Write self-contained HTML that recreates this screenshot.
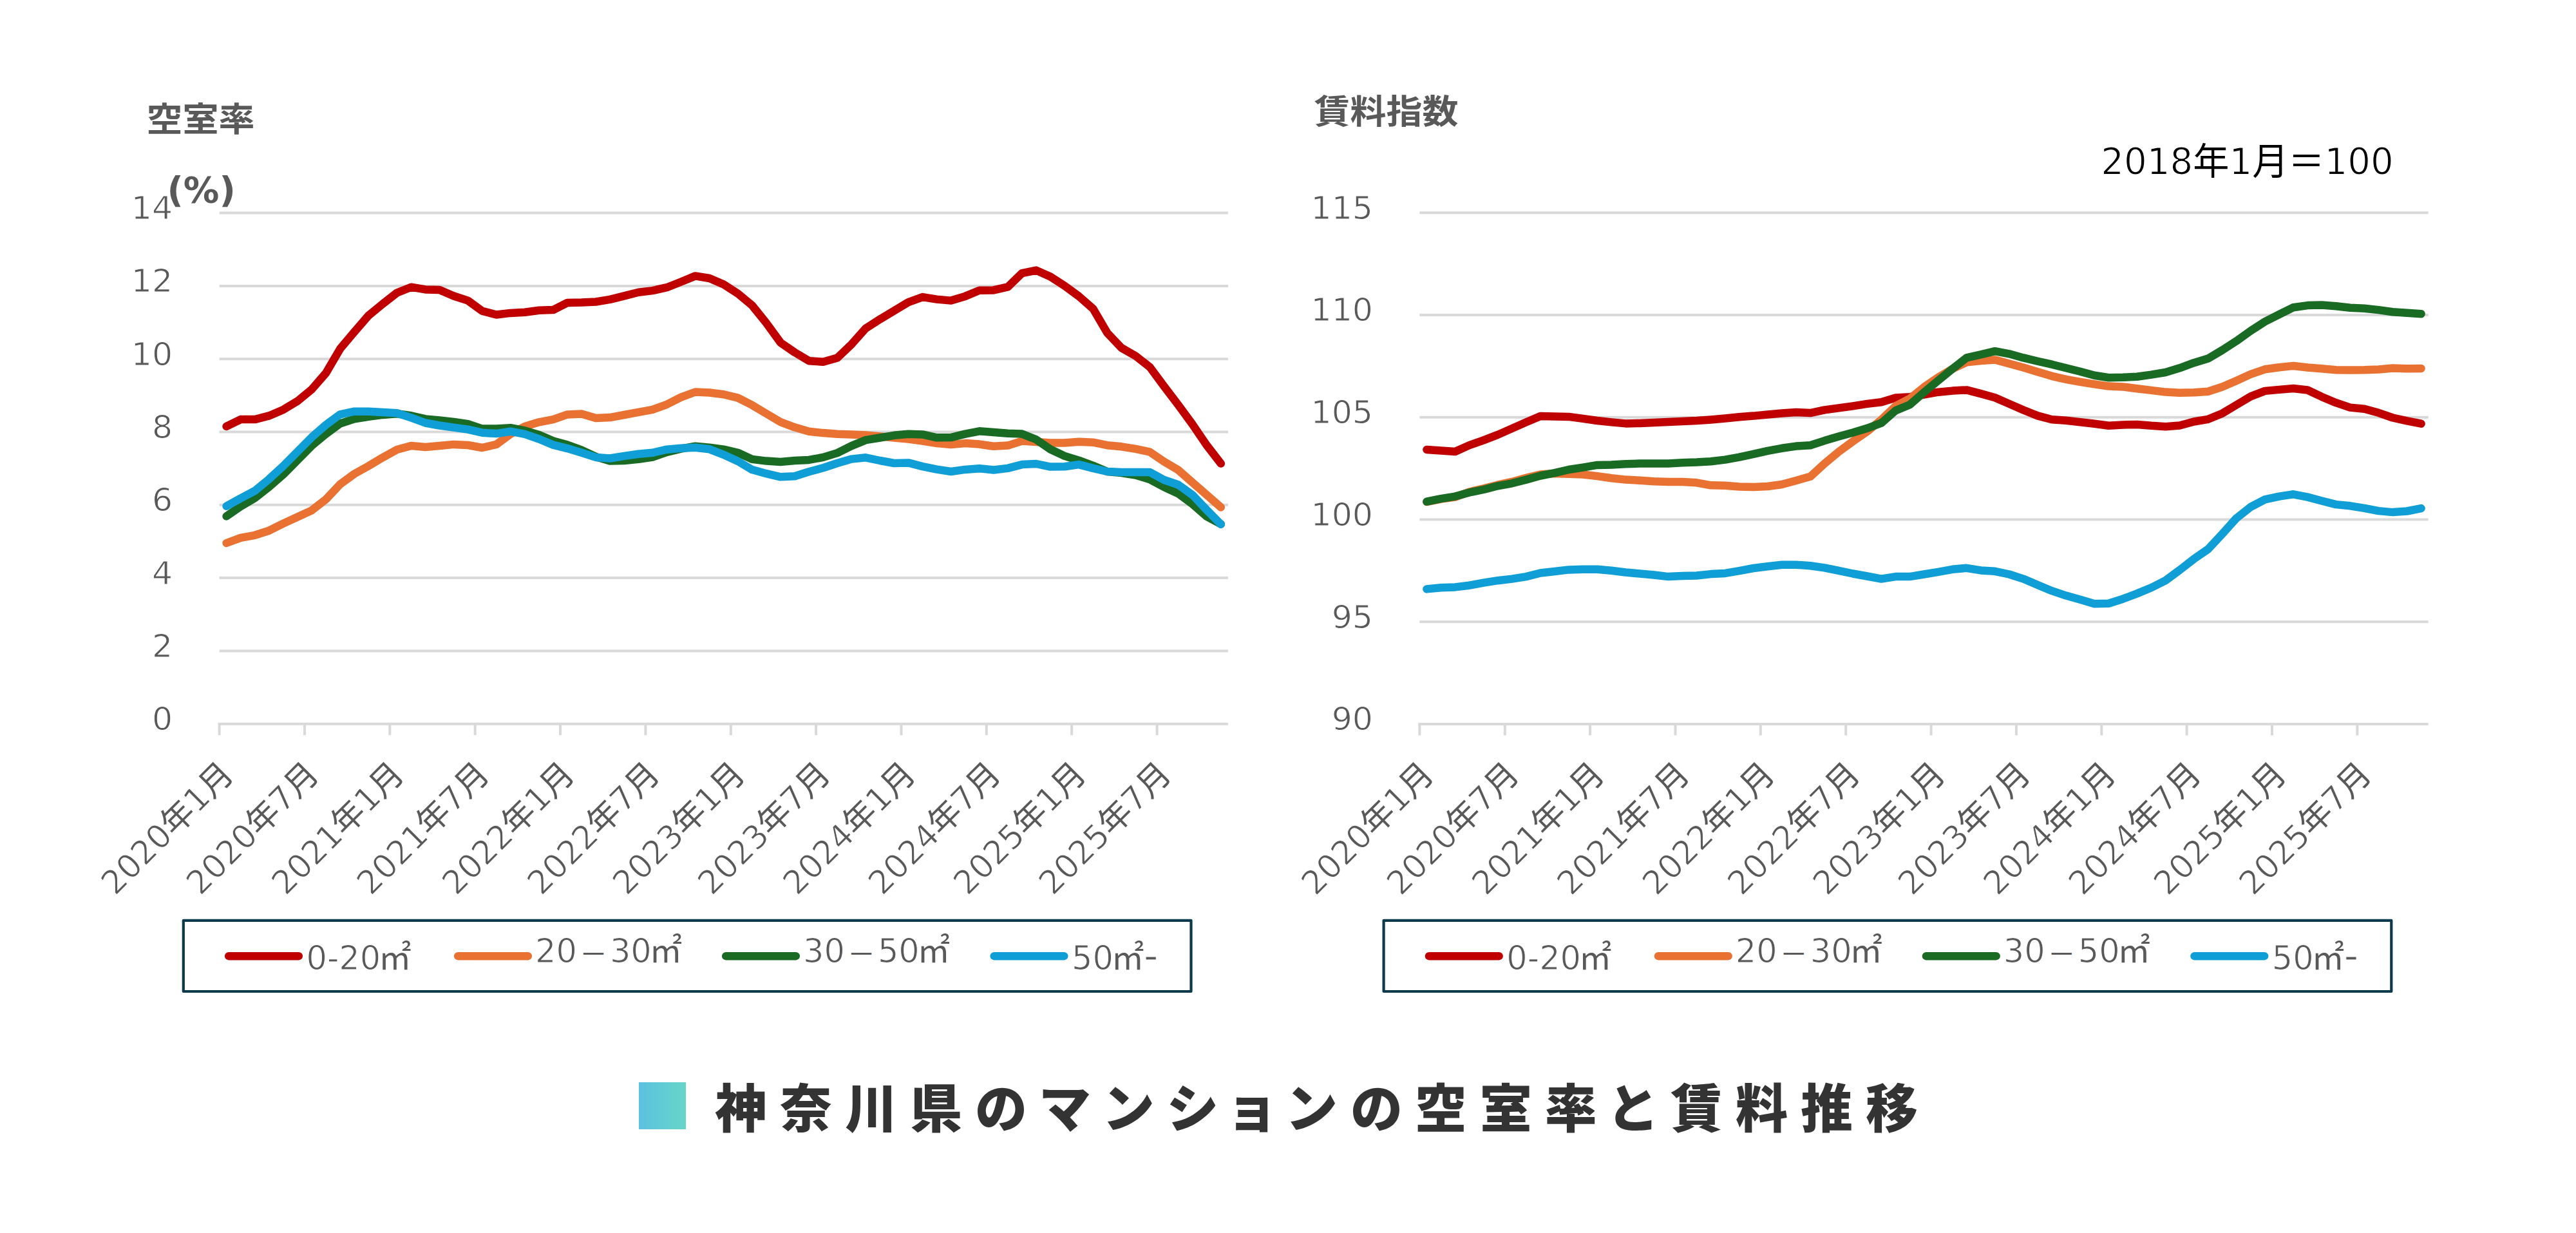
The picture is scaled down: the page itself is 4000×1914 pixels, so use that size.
<!DOCTYPE html>
<html lang="ja">
<head>
<meta charset="utf-8">
<title>神奈川県のマンションの空室率と賃料推移</title>
<style>
html,body{margin:0;padding:0;background:#fff;}
body{width:4000px;height:1914px;overflow:hidden;position:relative;font-family:'DejaVu Sans','Liberation Sans','Noto Sans CJK JP',sans-serif;}
svg{position:absolute;left:0;top:0;display:block;}
.ttl{transform:scaleY(0.93);transform-origin:50% 100%;position:absolute;font-weight:700;color:#595959;font-size:56px;line-height:56px;white-space:nowrap;font-family:'Liberation Sans','Noto Sans CJK JP',sans-serif;}
.pct{position:absolute;font-weight:700;color:#595959;font-size:55.5px;line-height:56px;white-space:nowrap;font-family:'DejaVu Sans','Liberation Sans',sans-serif;}
.note b{font-weight:400;-webkit-text-stroke:1.2px #fff;}
.note{transform:scale(1.003,1.03);transform-origin:50% 86%;position:absolute;color:#000;font-size:56px;line-height:56px;white-space:nowrap;font-family:'DejaVu Sans','Liberation Sans','Noto Sans CJK JP',sans-serif;}
.cap{position:absolute;left:1110px;top:1674px;font-weight:900;color:#333;font-size:81px;line-height:96px;letter-spacing:20px;font-feature-settings:'palt';white-space:nowrap;font-family:'Liberation Sans','Noto Sans CJK JP',sans-serif;}
.kn{letter-spacing:23.25px;}
.sq{position:absolute;left:992px;top:1680.2px;width:72.6px;height:72.7px;background:linear-gradient(90deg,#5cc1e2 0%,#66d6c7 100%);}
</style>
</head>
<body>
<svg width="4000" height="1914" viewBox="0 0 4000 1914">
<g id="chart-left">
<line x1="340.6" y1="330.6" x2="1906.9" y2="330.6" stroke="#d9d9d9" stroke-width="4"/>
<line x1="340.6" y1="443.9" x2="1906.9" y2="443.9" stroke="#d9d9d9" stroke-width="4"/>
<line x1="340.6" y1="557.2" x2="1906.9" y2="557.2" stroke="#d9d9d9" stroke-width="4"/>
<line x1="340.6" y1="670.5" x2="1906.9" y2="670.5" stroke="#d9d9d9" stroke-width="4"/>
<line x1="340.6" y1="783.8" x2="1906.9" y2="783.8" stroke="#d9d9d9" stroke-width="4"/>
<line x1="340.6" y1="897.1" x2="1906.9" y2="897.1" stroke="#d9d9d9" stroke-width="4"/>
<line x1="340.6" y1="1010.4" x2="1906.9" y2="1010.4" stroke="#d9d9d9" stroke-width="4"/>
<line x1="338.6" y1="1123.7" x2="1906.9" y2="1123.7" stroke="#d9d9d9" stroke-width="4"/>
<line x1="340.6" y1="1123.7" x2="340.6" y2="1141.2" stroke="#d9d9d9" stroke-width="4"/>
<line x1="473.0" y1="1123.7" x2="473.0" y2="1141.2" stroke="#d9d9d9" stroke-width="4"/>
<line x1="605.3" y1="1123.7" x2="605.3" y2="1141.2" stroke="#d9d9d9" stroke-width="4"/>
<line x1="737.7" y1="1123.7" x2="737.7" y2="1141.2" stroke="#d9d9d9" stroke-width="4"/>
<line x1="870.0" y1="1123.7" x2="870.0" y2="1141.2" stroke="#d9d9d9" stroke-width="4"/>
<line x1="1002.4" y1="1123.7" x2="1002.4" y2="1141.2" stroke="#d9d9d9" stroke-width="4"/>
<line x1="1134.8" y1="1123.7" x2="1134.8" y2="1141.2" stroke="#d9d9d9" stroke-width="4"/>
<line x1="1267.1" y1="1123.7" x2="1267.1" y2="1141.2" stroke="#d9d9d9" stroke-width="4"/>
<line x1="1399.5" y1="1123.7" x2="1399.5" y2="1141.2" stroke="#d9d9d9" stroke-width="4"/>
<line x1="1531.8" y1="1123.7" x2="1531.8" y2="1141.2" stroke="#d9d9d9" stroke-width="4"/>
<line x1="1664.2" y1="1123.7" x2="1664.2" y2="1141.2" stroke="#d9d9d9" stroke-width="4"/>
<line x1="1796.6" y1="1123.7" x2="1796.6" y2="1141.2" stroke="#d9d9d9" stroke-width="4"/>
<text x="268.1" y="340.0" text-anchor="end" font-size="50.5" fill="#595959" stroke="#fff" stroke-width="1.0" font-family="'DejaVu Sans','Liberation Sans','Noto Sans CJK JP',sans-serif">14</text>
<text x="268.1" y="453.3" text-anchor="end" font-size="50.5" fill="#595959" stroke="#fff" stroke-width="1.0" font-family="'DejaVu Sans','Liberation Sans','Noto Sans CJK JP',sans-serif">12</text>
<text x="268.1" y="566.6" text-anchor="end" font-size="50.5" fill="#595959" stroke="#fff" stroke-width="1.0" font-family="'DejaVu Sans','Liberation Sans','Noto Sans CJK JP',sans-serif">10</text>
<text x="268.1" y="679.9" text-anchor="end" font-size="50.5" fill="#595959" stroke="#fff" stroke-width="1.0" font-family="'DejaVu Sans','Liberation Sans','Noto Sans CJK JP',sans-serif">8</text>
<text x="268.1" y="793.2" text-anchor="end" font-size="50.5" fill="#595959" stroke="#fff" stroke-width="1.0" font-family="'DejaVu Sans','Liberation Sans','Noto Sans CJK JP',sans-serif">6</text>
<text x="268.1" y="906.5" text-anchor="end" font-size="50.5" fill="#595959" stroke="#fff" stroke-width="1.0" font-family="'DejaVu Sans','Liberation Sans','Noto Sans CJK JP',sans-serif">4</text>
<text x="268.1" y="1019.8" text-anchor="end" font-size="50.5" fill="#595959" stroke="#fff" stroke-width="1.0" font-family="'DejaVu Sans','Liberation Sans','Noto Sans CJK JP',sans-serif">2</text>
<text x="268.1" y="1133.1" text-anchor="end" font-size="50.5" fill="#595959" stroke="#fff" stroke-width="1.0" font-family="'DejaVu Sans','Liberation Sans','Noto Sans CJK JP',sans-serif">0</text>
<text transform="translate(365.6 1204.7) rotate(-45)" text-anchor="end" font-size="51" fill="#595959" stroke="#fff" stroke-width="1.0" font-family="'DejaVu Sans','Liberation Sans','Noto Sans CJK JP',sans-serif">2020<tspan stroke="none">年</tspan>1<tspan stroke="none">月</tspan></text>
<text transform="translate(498.0 1204.7) rotate(-45)" text-anchor="end" font-size="51" fill="#595959" stroke="#fff" stroke-width="1.0" font-family="'DejaVu Sans','Liberation Sans','Noto Sans CJK JP',sans-serif">2020<tspan stroke="none">年</tspan>7<tspan stroke="none">月</tspan></text>
<text transform="translate(630.4 1204.7) rotate(-45)" text-anchor="end" font-size="51" fill="#595959" stroke="#fff" stroke-width="1.0" font-family="'DejaVu Sans','Liberation Sans','Noto Sans CJK JP',sans-serif">2021<tspan stroke="none">年</tspan>1<tspan stroke="none">月</tspan></text>
<text transform="translate(762.7 1204.7) rotate(-45)" text-anchor="end" font-size="51" fill="#595959" stroke="#fff" stroke-width="1.0" font-family="'DejaVu Sans','Liberation Sans','Noto Sans CJK JP',sans-serif">2021<tspan stroke="none">年</tspan>7<tspan stroke="none">月</tspan></text>
<text transform="translate(895.1 1204.7) rotate(-45)" text-anchor="end" font-size="51" fill="#595959" stroke="#fff" stroke-width="1.0" font-family="'DejaVu Sans','Liberation Sans','Noto Sans CJK JP',sans-serif">2022<tspan stroke="none">年</tspan>1<tspan stroke="none">月</tspan></text>
<text transform="translate(1027.4 1204.7) rotate(-45)" text-anchor="end" font-size="51" fill="#595959" stroke="#fff" stroke-width="1.0" font-family="'DejaVu Sans','Liberation Sans','Noto Sans CJK JP',sans-serif">2022<tspan stroke="none">年</tspan>7<tspan stroke="none">月</tspan></text>
<text transform="translate(1159.8 1204.7) rotate(-45)" text-anchor="end" font-size="51" fill="#595959" stroke="#fff" stroke-width="1.0" font-family="'DejaVu Sans','Liberation Sans','Noto Sans CJK JP',sans-serif">2023<tspan stroke="none">年</tspan>1<tspan stroke="none">月</tspan></text>
<text transform="translate(1292.2 1204.7) rotate(-45)" text-anchor="end" font-size="51" fill="#595959" stroke="#fff" stroke-width="1.0" font-family="'DejaVu Sans','Liberation Sans','Noto Sans CJK JP',sans-serif">2023<tspan stroke="none">年</tspan>7<tspan stroke="none">月</tspan></text>
<text transform="translate(1424.5 1204.7) rotate(-45)" text-anchor="end" font-size="51" fill="#595959" stroke="#fff" stroke-width="1.0" font-family="'DejaVu Sans','Liberation Sans','Noto Sans CJK JP',sans-serif">2024<tspan stroke="none">年</tspan>1<tspan stroke="none">月</tspan></text>
<text transform="translate(1556.9 1204.7) rotate(-45)" text-anchor="end" font-size="51" fill="#595959" stroke="#fff" stroke-width="1.0" font-family="'DejaVu Sans','Liberation Sans','Noto Sans CJK JP',sans-serif">2024<tspan stroke="none">年</tspan>7<tspan stroke="none">月</tspan></text>
<text transform="translate(1689.2 1204.7) rotate(-45)" text-anchor="end" font-size="51" fill="#595959" stroke="#fff" stroke-width="1.0" font-family="'DejaVu Sans','Liberation Sans','Noto Sans CJK JP',sans-serif">2025<tspan stroke="none">年</tspan>1<tspan stroke="none">月</tspan></text>
<text transform="translate(1821.6 1204.7) rotate(-45)" text-anchor="end" font-size="51" fill="#595959" stroke="#fff" stroke-width="1.0" font-family="'DejaVu Sans','Liberation Sans','Noto Sans CJK JP',sans-serif">2025<tspan stroke="none">年</tspan>7<tspan stroke="none">月</tspan></text>
<polyline points="351.6,661.9 373.7,651.1 395.8,651.1 417.8,645.4 439.9,635.9 461.9,622.7 484.0,604.5 506.1,579.1 528.1,541.6 550.2,515.3 572.2,489.9 594.3,471.7 616.4,454.5 638.4,445.7 660.5,449.4 682.5,450.0 704.6,459.5 726.6,466.6 748.7,482.8 770.8,488.5 792.8,485.9 814.9,484.8 837.0,481.8 859.0,481.1 881.1,469.9 903.1,469.5 925.2,468.5 947.2,464.9 969.3,459.4 991.4,453.7 1013.4,451.1 1035.5,446.2 1057.5,437.5 1079.6,428.4 1101.7,432.0 1123.7,441.6 1145.8,455.8 1167.8,474.0 1189.9,501.4 1212.0,531.8 1234.0,547.0 1256.1,560.2 1278.2,561.8 1300.2,555.5 1322.3,534.4 1344.3,509.7 1366.4,495.6 1388.4,482.4 1410.5,469.2 1432.6,461.1 1454.6,464.6 1476.7,466.6 1498.8,459.9 1520.8,450.8 1542.9,450.4 1564.9,445.4 1587.0,424.1 1609.0,419.6 1631.1,429.5 1653.2,443.7 1675.2,459.9 1697.3,479.2 1719.3,516.7 1741.4,540.0 1763.5,552.7 1785.5,569.9 1807.6,599.7 1829.7,628.7 1851.7,658.8 1873.8,691.2 1895.8,719.6" fill="none" stroke="#c00000" stroke-width="12.5" stroke-linejoin="round" stroke-linecap="round"/>
<polyline points="351.6,843.0 373.7,834.9 395.8,830.8 417.8,823.7 439.9,812.6 461.9,802.5 484.0,792.3 506.1,775.1 528.1,751.8 550.2,735.6 572.2,723.4 594.3,710.2 616.4,698.1 638.4,692.0 660.5,694.0 682.5,692.0 704.6,689.9 726.6,691.0 748.7,695.0 770.8,689.9 792.8,673.7 814.9,661.9 837.0,655.3 859.0,651.1 881.1,643.4 903.1,642.6 925.2,649.1 947.2,648.1 969.3,644.0 991.4,639.9 1013.4,635.9 1035.5,627.8 1057.5,616.6 1079.6,608.5 1101.7,609.5 1123.7,612.2 1145.8,617.6 1167.8,628.8 1189.9,642.0 1212.0,655.1 1234.0,663.3 1256.1,669.7 1278.2,672.1 1300.2,673.8 1322.3,674.6 1344.3,675.4 1366.4,677.4 1388.4,679.5 1410.5,681.5 1432.6,684.5 1454.6,688.1 1476.7,690.1 1498.8,688.1 1520.8,689.6 1542.9,692.8 1564.9,691.6 1587.0,684.6 1609.0,686.1 1631.1,687.6 1653.2,687.6 1675.2,685.8 1697.3,686.7 1719.3,691.2 1741.4,693.3 1763.5,696.8 1785.5,701.6 1807.6,716.6 1829.7,729.7 1851.7,749.0 1873.8,768.3 1895.8,787.5" fill="none" stroke="#e97132" stroke-width="12.5" stroke-linejoin="round" stroke-linecap="round"/>
<polyline points="351.6,801.4 373.7,786.2 395.8,773.1 417.8,755.8 439.9,736.6 461.9,714.3 484.0,692.0 506.1,673.7 528.1,657.5 550.2,650.4 572.2,646.8 594.3,643.9 616.4,642.3 638.4,645.3 660.5,650.4 682.5,652.4 704.6,654.9 726.6,658.1 748.7,665.6 770.8,665.6 792.8,664.2 814.9,668.5 837.0,674.9 859.0,684.5 881.1,690.6 903.1,698.7 925.2,708.9 947.2,715.6 969.3,715.0 991.4,712.9 1013.4,709.5 1035.5,701.8 1057.5,696.7 1079.6,692.7 1101.7,694.7 1123.7,697.7 1145.8,702.8 1167.8,712.9 1189.9,715.6 1212.0,717.0 1234.0,715.0 1256.1,713.9 1278.2,709.9 1300.2,703.1 1322.3,692.1 1344.3,683.1 1366.4,679.5 1388.4,675.8 1410.5,673.8 1432.6,674.4 1454.6,679.3 1476.7,679.1 1498.8,673.6 1520.8,669.3 1542.9,671.0 1564.9,672.8 1587.0,673.6 1609.0,682.3 1631.1,697.5 1653.2,707.9 1675.2,714.7 1697.3,722.9 1719.3,732.0 1741.4,734.0 1763.5,737.5 1785.5,744.2 1807.6,756.1 1829.7,766.2 1851.7,782.5 1873.8,801.7 1895.8,813.5" fill="none" stroke="#196b24" stroke-width="12.5" stroke-linejoin="round" stroke-linecap="round"/>
<polyline points="351.6,785.8 373.7,773.5 395.8,761.9 417.8,743.7 439.9,723.4 461.9,701.1 484.0,678.8 506.1,659.5 528.1,643.3 550.2,638.7 572.2,638.7 594.3,639.9 616.4,641.3 638.4,648.4 660.5,656.5 682.5,660.5 704.6,663.6 726.6,666.6 748.7,671.7 770.8,673.1 792.8,669.7 814.9,673.9 837.0,681.5 859.0,690.6 881.1,696.1 903.1,702.8 925.2,709.9 947.2,711.5 969.3,707.9 991.4,704.8 1013.4,702.8 1035.5,697.7 1057.5,695.7 1079.6,694.7 1101.7,697.3 1123.7,705.8 1145.8,716.0 1167.8,729.1 1189.9,735.2 1212.0,740.3 1234.0,739.3 1256.1,732.2 1278.2,726.3 1300.2,719.0 1322.3,712.6 1344.3,710.3 1366.4,715.0 1388.4,719.0 1410.5,718.4 1432.6,724.1 1454.6,728.6 1476.7,732.0 1498.8,728.9 1520.8,727.2 1542.9,729.5 1564.9,726.9 1587.0,721.1 1609.0,720.0 1631.1,724.6 1653.2,724.3 1675.2,721.1 1697.3,726.9 1719.3,732.0 1741.4,733.0 1763.5,733.0 1785.5,733.0 1807.6,745.0 1829.7,752.5 1851.7,768.3 1873.8,791.6 1895.8,813.9" fill="none" stroke="#0f9ed5" stroke-width="12.5" stroke-linejoin="round" stroke-linecap="round"/>
<rect x="284.8" y="1428.8" width="1564.7" height="110.2" fill="#fff" stroke="#0b3a4c" stroke-width="4.2" stroke-linejoin="round"/>
<line x1="355.2" y1="1484.2" x2="463.8" y2="1484.2" stroke="#c00000" stroke-width="12.5" stroke-linecap="round"/>
<text x="475.5" y="1505.0" font-size="51" fill="#595959" stroke="#fff" stroke-width="1.0" font-family="'DejaVu Sans','Liberation Sans','Noto Sans CJK JP',sans-serif">0-20<tspan dx="-3.5" stroke="none">㎡</tspan></text>
<line x1="711.2" y1="1484.2" x2="819.8" y2="1484.2" stroke="#e97132" stroke-width="12.5" stroke-linecap="round"/>
<text x="831.0" y="1493.7" font-size="51" fill="#595959" stroke="#fff" stroke-width="1.0" font-family="'DejaVu Sans','Liberation Sans','Noto Sans CJK JP',sans-serif">20<tspan dx="4" dy="3" font-size="43" stroke="none">－</tspan><tspan dx="4" dy="-3">30</tspan><tspan dx="-3.5" stroke="none">㎡</tspan></text>
<line x1="1127.2" y1="1484.2" x2="1235.8" y2="1484.2" stroke="#196b24" stroke-width="12.5" stroke-linecap="round"/>
<text x="1247.0" y="1493.7" font-size="51" fill="#595959" stroke="#fff" stroke-width="1.0" font-family="'DejaVu Sans','Liberation Sans','Noto Sans CJK JP',sans-serif">30<tspan dx="4" dy="3" font-size="43" stroke="none">－</tspan><tspan dx="4" dy="-3">50</tspan><tspan dx="-3.5" stroke="none">㎡</tspan></text>
<line x1="1543.7" y1="1484.2" x2="1652.3" y2="1484.2" stroke="#0f9ed5" stroke-width="12.5" stroke-linecap="round"/>
<text x="1664.0" y="1505.0" font-size="51" fill="#595959" stroke="#fff" stroke-width="1.0" font-family="'DejaVu Sans','Liberation Sans','Noto Sans CJK JP',sans-serif">50<tspan dx="-3.5" stroke="none">㎡</tspan><tspan dx="-0.5" font-size="62">-</tspan></text>
</g>
<g id="chart-right">
<line x1="2204.4" y1="330.3" x2="3770.7" y2="330.3" stroke="#d9d9d9" stroke-width="4"/>
<line x1="2204.4" y1="489.0" x2="3770.7" y2="489.0" stroke="#d9d9d9" stroke-width="4"/>
<line x1="2204.4" y1="647.8" x2="3770.7" y2="647.8" stroke="#d9d9d9" stroke-width="4"/>
<line x1="2204.4" y1="806.5" x2="3770.7" y2="806.5" stroke="#d9d9d9" stroke-width="4"/>
<line x1="2204.4" y1="965.3" x2="3770.7" y2="965.3" stroke="#d9d9d9" stroke-width="4"/>
<line x1="2202.4" y1="1124.0" x2="3770.7" y2="1124.0" stroke="#d9d9d9" stroke-width="4"/>
<line x1="2204.4" y1="1124.0" x2="2204.4" y2="1141.5" stroke="#d9d9d9" stroke-width="4"/>
<line x1="2336.8" y1="1124.0" x2="2336.8" y2="1141.5" stroke="#d9d9d9" stroke-width="4"/>
<line x1="2469.1" y1="1124.0" x2="2469.1" y2="1141.5" stroke="#d9d9d9" stroke-width="4"/>
<line x1="2601.5" y1="1124.0" x2="2601.5" y2="1141.5" stroke="#d9d9d9" stroke-width="4"/>
<line x1="2733.8" y1="1124.0" x2="2733.8" y2="1141.5" stroke="#d9d9d9" stroke-width="4"/>
<line x1="2866.2" y1="1124.0" x2="2866.2" y2="1141.5" stroke="#d9d9d9" stroke-width="4"/>
<line x1="2998.6" y1="1124.0" x2="2998.6" y2="1141.5" stroke="#d9d9d9" stroke-width="4"/>
<line x1="3130.9" y1="1124.0" x2="3130.9" y2="1141.5" stroke="#d9d9d9" stroke-width="4"/>
<line x1="3263.3" y1="1124.0" x2="3263.3" y2="1141.5" stroke="#d9d9d9" stroke-width="4"/>
<line x1="3395.6" y1="1124.0" x2="3395.6" y2="1141.5" stroke="#d9d9d9" stroke-width="4"/>
<line x1="3528.0" y1="1124.0" x2="3528.0" y2="1141.5" stroke="#d9d9d9" stroke-width="4"/>
<line x1="3660.4" y1="1124.0" x2="3660.4" y2="1141.5" stroke="#d9d9d9" stroke-width="4"/>
<text x="2131.9" y="339.7" text-anchor="end" font-size="50.5" fill="#595959" stroke="#fff" stroke-width="1.0" font-family="'DejaVu Sans','Liberation Sans','Noto Sans CJK JP',sans-serif">115</text>
<text x="2131.9" y="498.4" text-anchor="end" font-size="50.5" fill="#595959" stroke="#fff" stroke-width="1.0" font-family="'DejaVu Sans','Liberation Sans','Noto Sans CJK JP',sans-serif">110</text>
<text x="2131.9" y="657.2" text-anchor="end" font-size="50.5" fill="#595959" stroke="#fff" stroke-width="1.0" font-family="'DejaVu Sans','Liberation Sans','Noto Sans CJK JP',sans-serif">105</text>
<text x="2131.9" y="815.9" text-anchor="end" font-size="50.5" fill="#595959" stroke="#fff" stroke-width="1.0" font-family="'DejaVu Sans','Liberation Sans','Noto Sans CJK JP',sans-serif">100</text>
<text x="2131.9" y="974.7" text-anchor="end" font-size="50.5" fill="#595959" stroke="#fff" stroke-width="1.0" font-family="'DejaVu Sans','Liberation Sans','Noto Sans CJK JP',sans-serif">95</text>
<text x="2131.9" y="1133.4" text-anchor="end" font-size="50.5" fill="#595959" stroke="#fff" stroke-width="1.0" font-family="'DejaVu Sans','Liberation Sans','Noto Sans CJK JP',sans-serif">90</text>
<text transform="translate(2229.4 1205.0) rotate(-45)" text-anchor="end" font-size="51" fill="#595959" stroke="#fff" stroke-width="1.0" font-family="'DejaVu Sans','Liberation Sans','Noto Sans CJK JP',sans-serif">2020<tspan stroke="none">年</tspan>1<tspan stroke="none">月</tspan></text>
<text transform="translate(2361.8 1205.0) rotate(-45)" text-anchor="end" font-size="51" fill="#595959" stroke="#fff" stroke-width="1.0" font-family="'DejaVu Sans','Liberation Sans','Noto Sans CJK JP',sans-serif">2020<tspan stroke="none">年</tspan>7<tspan stroke="none">月</tspan></text>
<text transform="translate(2494.2 1205.0) rotate(-45)" text-anchor="end" font-size="51" fill="#595959" stroke="#fff" stroke-width="1.0" font-family="'DejaVu Sans','Liberation Sans','Noto Sans CJK JP',sans-serif">2021<tspan stroke="none">年</tspan>1<tspan stroke="none">月</tspan></text>
<text transform="translate(2626.5 1205.0) rotate(-45)" text-anchor="end" font-size="51" fill="#595959" stroke="#fff" stroke-width="1.0" font-family="'DejaVu Sans','Liberation Sans','Noto Sans CJK JP',sans-serif">2021<tspan stroke="none">年</tspan>7<tspan stroke="none">月</tspan></text>
<text transform="translate(2758.9 1205.0) rotate(-45)" text-anchor="end" font-size="51" fill="#595959" stroke="#fff" stroke-width="1.0" font-family="'DejaVu Sans','Liberation Sans','Noto Sans CJK JP',sans-serif">2022<tspan stroke="none">年</tspan>1<tspan stroke="none">月</tspan></text>
<text transform="translate(2891.2 1205.0) rotate(-45)" text-anchor="end" font-size="51" fill="#595959" stroke="#fff" stroke-width="1.0" font-family="'DejaVu Sans','Liberation Sans','Noto Sans CJK JP',sans-serif">2022<tspan stroke="none">年</tspan>7<tspan stroke="none">月</tspan></text>
<text transform="translate(3023.6 1205.0) rotate(-45)" text-anchor="end" font-size="51" fill="#595959" stroke="#fff" stroke-width="1.0" font-family="'DejaVu Sans','Liberation Sans','Noto Sans CJK JP',sans-serif">2023<tspan stroke="none">年</tspan>1<tspan stroke="none">月</tspan></text>
<text transform="translate(3155.9 1205.0) rotate(-45)" text-anchor="end" font-size="51" fill="#595959" stroke="#fff" stroke-width="1.0" font-family="'DejaVu Sans','Liberation Sans','Noto Sans CJK JP',sans-serif">2023<tspan stroke="none">年</tspan>7<tspan stroke="none">月</tspan></text>
<text transform="translate(3288.3 1205.0) rotate(-45)" text-anchor="end" font-size="51" fill="#595959" stroke="#fff" stroke-width="1.0" font-family="'DejaVu Sans','Liberation Sans','Noto Sans CJK JP',sans-serif">2024<tspan stroke="none">年</tspan>1<tspan stroke="none">月</tspan></text>
<text transform="translate(3420.7 1205.0) rotate(-45)" text-anchor="end" font-size="51" fill="#595959" stroke="#fff" stroke-width="1.0" font-family="'DejaVu Sans','Liberation Sans','Noto Sans CJK JP',sans-serif">2024<tspan stroke="none">年</tspan>7<tspan stroke="none">月</tspan></text>
<text transform="translate(3553.0 1205.0) rotate(-45)" text-anchor="end" font-size="51" fill="#595959" stroke="#fff" stroke-width="1.0" font-family="'DejaVu Sans','Liberation Sans','Noto Sans CJK JP',sans-serif">2025<tspan stroke="none">年</tspan>1<tspan stroke="none">月</tspan></text>
<text transform="translate(3685.4 1205.0) rotate(-45)" text-anchor="end" font-size="51" fill="#595959" stroke="#fff" stroke-width="1.0" font-family="'DejaVu Sans','Liberation Sans','Noto Sans CJK JP',sans-serif">2025<tspan stroke="none">年</tspan>7<tspan stroke="none">月</tspan></text>
<polyline points="2215.4,698.0 2237.5,699.6 2259.6,701.0 2281.6,691.1 2303.7,683.4 2325.7,674.9 2347.8,665.1 2369.8,655.4 2391.9,645.9 2414.0,646.5 2436.0,646.9 2458.1,649.9 2480.2,653.0 2502.2,655.4 2524.3,657.4 2546.3,657.0 2568.4,656.0 2590.4,655.0 2612.5,654.0 2634.6,653.0 2656.6,651.4 2678.7,649.5 2700.8,647.2 2722.8,645.6 2744.9,643.5 2766.9,641.5 2789.0,639.9 2811.1,641.1 2833.1,636.4 2855.2,633.4 2877.2,630.4 2899.3,626.9 2921.3,624.3 2943.4,617.6 2965.5,616.2 2987.5,612.7 3009.6,608.7 3031.7,606.6 3053.7,605.4 3075.8,611.1 3097.8,617.2 3119.9,626.9 3141.9,636.5 3164.0,645.4 3186.1,651.2 3208.1,652.7 3230.2,655.2 3252.2,657.8 3274.3,660.8 3296.4,659.4 3318.4,658.9 3340.5,660.8 3362.6,662.2 3384.6,660.6 3406.7,654.5 3428.7,650.8 3450.8,641.7 3472.8,628.5 3494.9,615.4 3517.0,606.9 3539.0,604.9 3561.1,603.0 3583.2,605.5 3605.2,615.9 3627.3,625.2 3649.3,632.6 3671.4,634.8 3693.4,640.8 3715.5,648.5 3737.6,653.4 3759.6,657.7" fill="none" stroke="#c00000" stroke-width="12.5" stroke-linejoin="round" stroke-linecap="round"/>
<polyline points="2215.4,779.1 2237.5,774.6 2259.6,771.6 2281.6,763.5 2303.7,758.4 2325.7,752.7 2347.8,747.9 2369.8,741.8 2391.9,736.5 2414.0,735.1 2436.0,735.7 2458.1,736.5 2480.2,739.1 2502.2,742.2 2524.3,744.6 2546.3,745.8 2568.4,747.3 2590.4,747.9 2612.5,747.9 2634.6,749.3 2656.6,753.3 2678.7,753.7 2700.8,755.5 2722.8,756.0 2744.9,755.0 2766.9,752.0 2789.0,745.9 2811.1,739.8 2833.1,719.6 2855.2,701.3 2877.2,685.1 2899.3,669.9 2921.3,651.6 2943.4,630.4 2965.5,618.8 2987.5,601.0 3009.6,585.8 3031.7,572.6 3053.7,562.4 3075.8,560.0 3097.8,558.4 3119.9,564.5 3141.9,570.6 3164.0,577.2 3186.1,583.8 3208.1,588.9 3230.2,592.9 3252.2,596.4 3274.3,599.6 3296.4,600.4 3318.4,603.2 3340.5,605.9 3362.6,608.6 3384.6,609.8 3406.7,609.2 3428.7,607.8 3450.8,600.5 3472.8,591.0 3494.9,580.9 3517.0,573.3 3539.0,570.3 3561.1,568.0 3583.2,570.5 3605.2,572.3 3627.3,574.3 3649.3,574.5 3671.4,574.3 3693.4,573.5 3715.5,571.5 3737.6,572.3 3759.6,571.9" fill="none" stroke="#e97132" stroke-width="12.5" stroke-linejoin="round" stroke-linecap="round"/>
<polyline points="2215.4,778.7 2237.5,774.2 2259.6,770.6 2281.6,764.5 2303.7,760.0 2325.7,754.3 2347.8,750.3 2369.8,744.6 2391.9,738.5 2414.0,734.1 2436.0,729.0 2458.1,725.6 2480.2,721.9 2502.2,721.5 2524.3,720.3 2546.3,719.5 2568.4,719.5 2590.4,719.5 2612.5,718.3 2634.6,717.5 2656.6,716.2 2678.7,713.6 2700.8,709.6 2722.8,704.8 2744.9,699.9 2766.9,695.8 2789.0,692.6 2811.1,691.2 2833.1,684.1 2855.2,677.6 2877.2,671.5 2899.3,664.8 2921.3,656.7 2943.4,637.4 2965.5,628.3 2987.5,609.1 3009.6,590.8 3031.7,572.6 3053.7,555.3 3075.8,550.3 3097.8,545.2 3119.9,549.3 3141.9,555.4 3164.0,560.8 3186.1,565.7 3208.1,571.2 3230.2,576.7 3252.2,582.8 3274.3,586.2 3296.4,585.8 3318.4,584.7 3340.5,581.6 3362.6,578.0 3384.6,571.3 3406.7,563.2 3428.7,556.6 3450.8,543.5 3472.8,529.3 3494.9,513.5 3517.0,499.3 3539.0,488.1 3561.1,477.2 3583.2,474.1 3605.2,473.5 3627.3,475.2 3649.3,477.8 3671.4,478.7 3693.4,481.1 3715.5,484.3 3737.6,485.8 3759.6,487.2" fill="none" stroke="#196b24" stroke-width="12.5" stroke-linejoin="round" stroke-linecap="round"/>
<polyline points="2215.4,914.4 2237.5,912.2 2259.6,911.4 2281.6,908.7 2303.7,904.7 2325.7,901.2 2347.8,898.6 2369.8,895.1 2391.9,889.5 2414.0,887.0 2436.0,884.4 2458.1,883.8 2480.2,883.8 2502.2,885.8 2524.3,888.5 2546.3,890.5 2568.4,892.5 2590.4,895.1 2612.5,893.9 2634.6,893.5 2656.6,891.1 2678.7,889.9 2700.8,886.1 2722.8,882.0 2744.9,879.3 2766.9,876.7 2789.0,876.7 2811.1,878.3 2833.1,881.4 2855.2,885.8 2877.2,890.5 2899.3,894.5 2921.3,898.6 2943.4,895.1 2965.5,895.1 2987.5,891.5 3009.6,887.9 3031.7,883.8 3053.7,881.8 3075.8,885.4 3097.8,886.8 3119.9,891.5 3141.9,898.6 3164.0,908.1 3186.1,917.2 3208.1,924.6 3230.2,930.7 3252.2,937.2 3274.3,936.8 3296.4,929.7 3318.4,921.4 3340.5,912.3 3362.6,901.1 3384.6,884.9 3406.7,867.7 3428.7,852.5 3450.8,828.7 3472.8,804.3 3494.9,786.9 3517.0,775.4 3539.0,770.6 3561.1,767.3 3583.2,771.6 3605.2,777.5 3627.3,783.1 3649.3,785.3 3671.4,788.9 3693.4,793.1 3715.5,795.1 3737.6,793.5 3759.6,789.1" fill="none" stroke="#0f9ed5" stroke-width="12.5" stroke-linejoin="round" stroke-linecap="round"/>
<rect x="2148.6" y="1428.8" width="1564.7" height="110.2" fill="#fff" stroke="#0b3a4c" stroke-width="4.2" stroke-linejoin="round"/>
<line x1="2219.0" y1="1484.2" x2="2327.6" y2="1484.2" stroke="#c00000" stroke-width="12.5" stroke-linecap="round"/>
<text x="2339.3" y="1505.0" font-size="51" fill="#595959" stroke="#fff" stroke-width="1.0" font-family="'DejaVu Sans','Liberation Sans','Noto Sans CJK JP',sans-serif">0-20<tspan dx="-3.5" stroke="none">㎡</tspan></text>
<line x1="2575.0" y1="1484.2" x2="2683.6" y2="1484.2" stroke="#e97132" stroke-width="12.5" stroke-linecap="round"/>
<text x="2694.8" y="1493.7" font-size="51" fill="#595959" stroke="#fff" stroke-width="1.0" font-family="'DejaVu Sans','Liberation Sans','Noto Sans CJK JP',sans-serif">20<tspan dx="4" dy="3" font-size="43" stroke="none">－</tspan><tspan dx="4" dy="-3">30</tspan><tspan dx="-3.5" stroke="none">㎡</tspan></text>
<line x1="2991.0" y1="1484.2" x2="3099.6" y2="1484.2" stroke="#196b24" stroke-width="12.5" stroke-linecap="round"/>
<text x="3110.8" y="1493.7" font-size="51" fill="#595959" stroke="#fff" stroke-width="1.0" font-family="'DejaVu Sans','Liberation Sans','Noto Sans CJK JP',sans-serif">30<tspan dx="4" dy="3" font-size="43" stroke="none">－</tspan><tspan dx="4" dy="-3">50</tspan><tspan dx="-3.5" stroke="none">㎡</tspan></text>
<line x1="3407.5" y1="1484.2" x2="3516.1" y2="1484.2" stroke="#0f9ed5" stroke-width="12.5" stroke-linecap="round"/>
<text x="3527.8" y="1505.0" font-size="51" fill="#595959" stroke="#fff" stroke-width="1.0" font-family="'DejaVu Sans','Liberation Sans','Noto Sans CJK JP',sans-serif">50<tspan dx="-3.5" stroke="none">㎡</tspan><tspan dx="-0.5" font-size="62">-</tspan></text>
</g>
</svg>
<div class="ttl" style="left:227.5px;top:156px;">空室率</div>
<div class="pct" style="left:259.5px;top:266.5px;">(%)</div>
<div class="ttl" style="left:2040.5px;top:144px;">賃料指数</div>
<div class="note" style="left:3262.5px;top:224px;"><b>2018</b>年<b>1</b>月＝<b>100</b></div>
<div class="sq"></div>
<div class="cap">神奈川県<span class="kn">のマンション</span>の空室率<span class="kn" style="letter-spacing:26.5px">と</span>賃料推移</div>
</body>
</html>
